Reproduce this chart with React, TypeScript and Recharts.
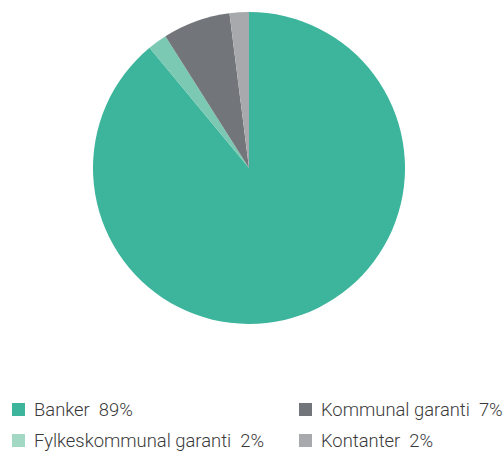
import React from "react";
import { PieChart, Pie, Cell } from "recharts";

const categories = ["Banker", "Fylkeskommunal garanti", "Kommunal garanti", "Kontanter"];
const shares = [89, 2, 7, 2];
const colors = ["#3db59c", "#7cc9b3", "#727579", "#a8a9ac"];
const legendColors = ["#3db59c", "#a3d8c5", "#727579", "#a8a9ac"];

const data = categories.map((name, i) => ({ name, value: shares[i] }));

// legend: two columns, left = Banker/Fylkeskommunal, right = Kommunal/Kontanter
const legendCols = [[0, 1], [2, 3]];

const ChartLegend = () => (
  <div style={{ position: "absolute", left: 0, top: 399, width: 504, height: 54, fontFamily: "Roboto, sans-serif", fontWeight: 300, fontSize: 18.4, color: "#3a3a3a" }}>
    {legendCols.map((col, ci) =>
      col.map((idx, ri) => (
        <div
          key={idx}
          style={{
            position: "absolute",
            left: ci === 0 ? 12 : 299,
            top: ri * 31,
            display: "flex",
            alignItems: "center",
            height: 20,
            whiteSpace: "nowrap",
          }}
        >
          <span style={{ display: "inline-block", width: 13, height: 13, background: legendColors[idx], marginRight: 9 }} />
          <span>
            {categories[idx]}&nbsp;&nbsp;{shares[idx]}%
          </span>
        </div>
      ))
    )}
  </div>
);

export default function App() {
  return (
    <div style={{ position: "absolute", left: 0, top: 0, width: 504, height: 453, background: "#fff" }}>
      <PieChart width={504} height={390} margin={{ top: 0, right: 0, bottom: 0, left: 0 }}>
        <Pie
          data={data}
          dataKey="value"
          nameKey="name"
          cx={249}
          cy={168}
          outerRadius={156}
          startAngle={90}
          endAngle={-270}
          stroke="none"
          isAnimationActive={false}
        >
          {data.map((d, i) => (
            <Cell key={d.name} fill={colors[i]} />
          ))}
        </Pie>
      </PieChart>
      <ChartLegend />
    </div>
  );
}
